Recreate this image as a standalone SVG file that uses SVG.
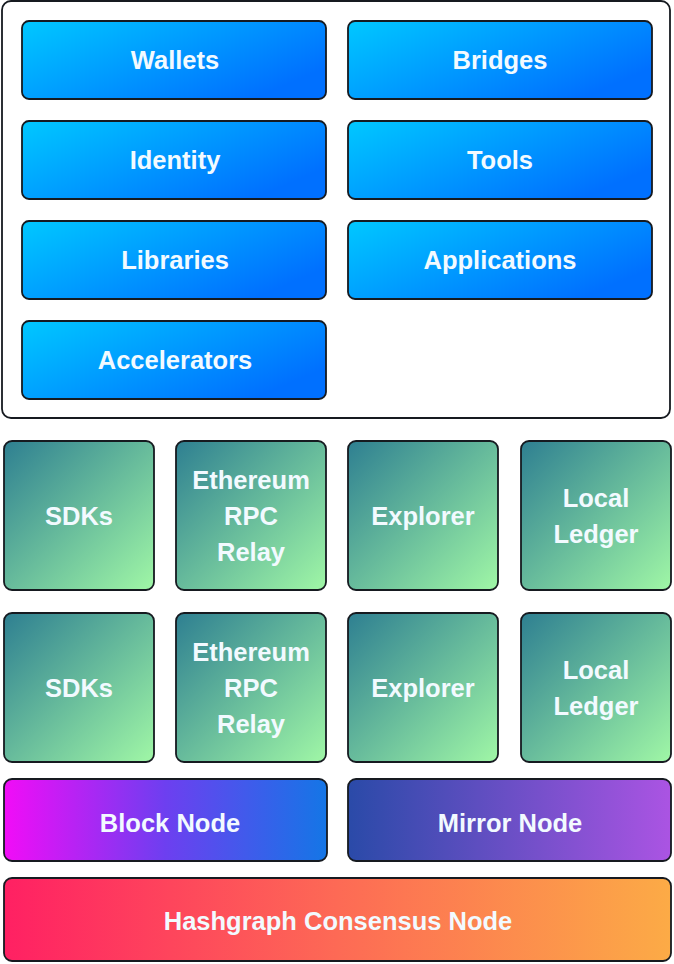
<svg xmlns="http://www.w3.org/2000/svg" width="674" height="964" viewBox="0 0 674 964">
<defs>
<linearGradient id="gBlue" x1="0" y1="0" x2="1" y2="0.6">
<stop offset="0" stop-color="#00c8ff"/><stop offset="1" stop-color="#0070ff"/>
</linearGradient>
<linearGradient id="gGreen" x1="0" y1="0" x2="1" y2="1">
<stop offset="0" stop-color="#2e7f91"/><stop offset="1" stop-color="#a0f7a6"/>
</linearGradient>
<linearGradient id="gBlock" x1="0" y1="0" x2="1" y2="0">
<stop offset="0" stop-color="#f20cf7"/><stop offset="0.5" stop-color="#6d3ff0"/><stop offset="1" stop-color="#1476e6"/>
</linearGradient>
<linearGradient id="gMirror" x1="0" y1="0" x2="1" y2="0">
<stop offset="0" stop-color="#2a4aa8"/><stop offset="1" stop-color="#ab54e3"/>
</linearGradient>
<linearGradient id="gHash" x1="0" y1="0" x2="1" y2="0">
<stop offset="0" stop-color="#ff2063"/><stop offset="0.5" stop-color="#fd6a55"/><stop offset="1" stop-color="#fcab46"/>
</linearGradient>
</defs>
<style>
.b{stroke:#161a20;stroke-width:1.8}
.t{font-family:"Liberation Sans",Arial,sans-serif;font-weight:700;font-size:25.5px;fill:#f2faff;text-anchor:middle;dominant-baseline:central}
</style>
<rect x="2" y="1" width="668" height="417" rx="9" fill="#fff" stroke="#161a20" stroke-width="1.8"/>
<g id="wallets"><rect class="b" x="22" y="21" width="304" height="78" rx="7" fill="url(#gBlue)"/><text class="t" x="175" y="60">Wallets</text></g>
<g id="bridges"><rect class="b" x="348" y="21" width="304" height="78" rx="7" fill="url(#gBlue)"/><text class="t" x="500" y="60">Bridges</text></g>
<g id="identity"><rect class="b" x="22" y="121" width="304" height="78" rx="7" fill="url(#gBlue)"/><text class="t" x="175" y="160">Identity</text></g>
<g id="tools"><rect class="b" x="348" y="121" width="304" height="78" rx="7" fill="url(#gBlue)"/><text class="t" x="500" y="160">Tools</text></g>
<g id="libraries"><rect class="b" x="22" y="221" width="304" height="78" rx="7" fill="url(#gBlue)"/><text class="t" x="175" y="260">Libraries</text></g>
<g id="applications"><rect class="b" x="348" y="221" width="304" height="78" rx="7" fill="url(#gBlue)"/><text class="t" x="500" y="260">Applications</text></g>
<g id="accelerators"><rect class="b" x="22" y="321" width="304" height="78" rx="7" fill="url(#gBlue)"/><text class="t" x="175" y="360">Accelerators</text></g>

<g id="sdks1"><rect class="b" x="4" y="441" width="150" height="149" rx="8" fill="url(#gGreen)"/><text class="t" x="79" y="516">SDKs</text></g>
<g id="relay1"><rect class="b" x="176" y="441" width="150" height="149" rx="8" fill="url(#gGreen)"/><text class="t" x="251" y="480">Ethereum</text><text class="t" x="251" y="516">RPC</text><text class="t" x="251" y="552">Relay</text></g>
<g id="explorer1"><rect class="b" x="348" y="441" width="150" height="149" rx="8" fill="url(#gGreen)"/><text class="t" x="423" y="516">Explorer</text></g>
<g id="ledger1"><rect class="b" x="521" y="441" width="150" height="149" rx="8" fill="url(#gGreen)"/><text class="t" x="596" y="498">Local</text><text class="t" x="596" y="534">Ledger</text></g>

<g id="sdks2"><rect class="b" x="4" y="613" width="150" height="149" rx="8" fill="url(#gGreen)"/><text class="t" x="79" y="688">SDKs</text></g>
<g id="relay2"><rect class="b" x="176" y="613" width="150" height="149" rx="8" fill="url(#gGreen)"/><text class="t" x="251" y="652">Ethereum</text><text class="t" x="251" y="688">RPC</text><text class="t" x="251" y="724">Relay</text></g>
<g id="explorer2"><rect class="b" x="348" y="613" width="150" height="149" rx="8" fill="url(#gGreen)"/><text class="t" x="423" y="688">Explorer</text></g>
<g id="ledger2"><rect class="b" x="521" y="613" width="150" height="149" rx="8" fill="url(#gGreen)"/><text class="t" x="596" y="670">Local</text><text class="t" x="596" y="706">Ledger</text></g>

<g id="blocknode"><rect class="b" x="4" y="779" width="323" height="82" rx="8" fill="url(#gBlock)"/><text class="t" x="170" y="823">Block Node</text></g>
<g id="mirrornode"><rect class="b" x="348" y="779" width="323" height="82" rx="8" fill="url(#gMirror)"/><text class="t" x="510" y="823">Mirror Node</text></g>
<g id="hashgraph"><rect class="b" x="4" y="878" width="667" height="83" rx="8" fill="url(#gHash)"/><text class="t" x="338" y="921">Hashgraph Consensus Node</text></g>
<g id="connectors"></g>
</svg>
